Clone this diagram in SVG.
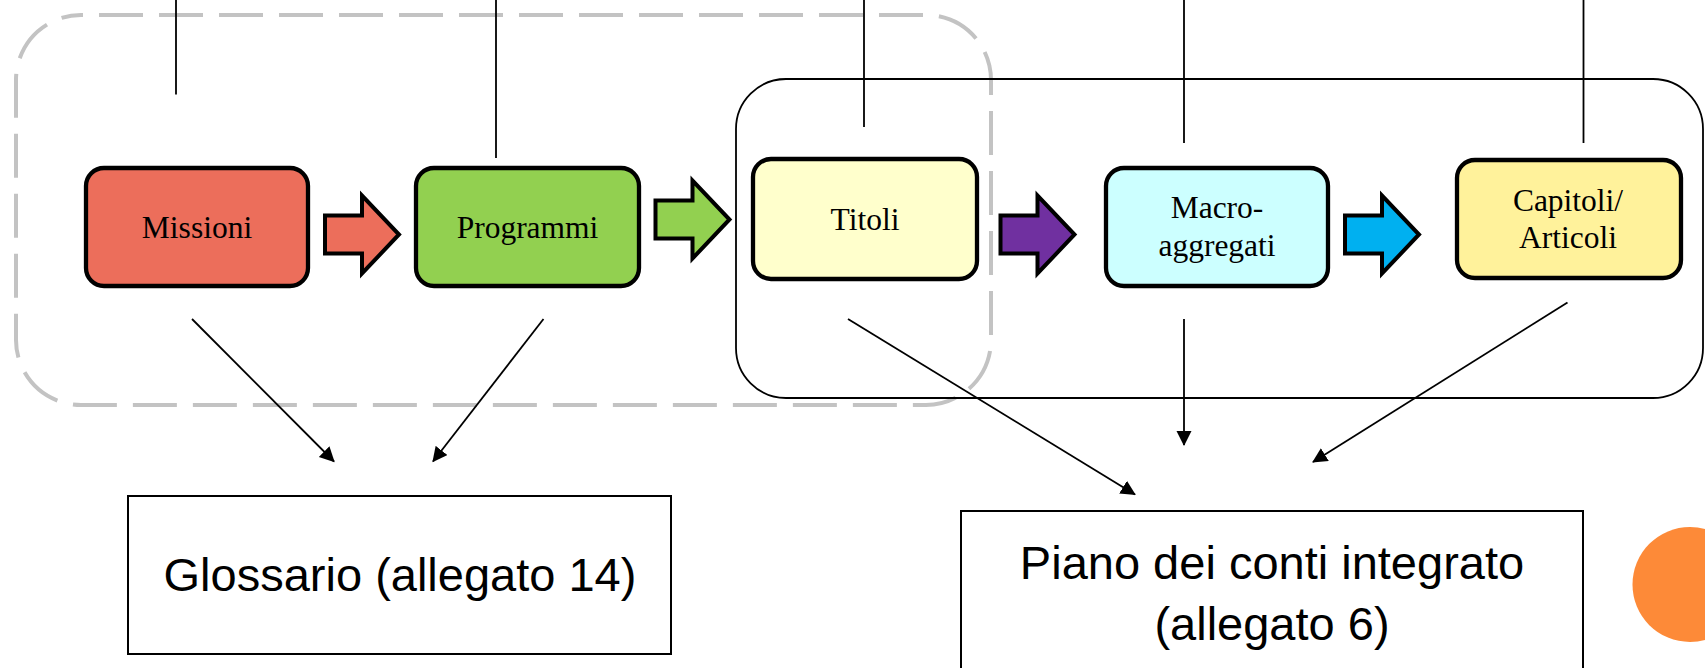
<svg xmlns="http://www.w3.org/2000/svg" xmlns:xlink="http://www.w3.org/1999/xlink" width="1705" height="668" viewBox="0 0 1705 668">
  <style>
    .node rect { stroke: #000; stroke-width: 4.3; }
    .node text { font-family: "Liberation Serif", "Times New Roman", serif; font-size: 31.5px; fill: #000; text-anchor: middle; }
    .doc rect { fill: #fff; stroke: #000; stroke-width: 2; }
    .doc text { font-family: "Liberation Sans", Arial, sans-serif; font-size: 47px; fill: #000; text-anchor: middle; }
    .conn line { stroke: #000; stroke-width: 1.8; fill: none; }
    .blk { stroke: #000; stroke-width: 4; stroke-linejoin: miter; }
  </style>
  <defs>
    <marker id="ah" markerUnits="userSpaceOnUse" markerWidth="16" markerHeight="16" refX="14" refY="7.5" orient="auto">
      <path d="M0,0 L15,7.5 L0,15 Z" fill="#000"/>
    </marker>
    <path id="blockArrow" d="M0,-19 H37 V-39 L74,0 L37,39 V19 H0 Z"/>
  </defs>

  <g id="groups">
    <rect id="group-dashed" x="16" y="15" width="975" height="390" rx="65" ry="65" fill="none" stroke="#C3C3C3" stroke-width="4" stroke-dasharray="44 16" stroke-dashoffset="42"/>
    <rect id="group-solid" x="736" y="79" width="967" height="319" rx="50" ry="50" fill="none" stroke="#000" stroke-width="1.8"/>
  </g>

  <g class="conn" id="connectors">
    <line x1="176" y1="0" x2="176" y2="94.5"/>
    <line x1="496" y1="0" x2="496" y2="158"/>
    <line x1="864" y1="0" x2="864" y2="127"/>
    <line x1="1184" y1="0" x2="1184" y2="143"/>
    <line x1="1583.5" y1="0" x2="1583.5" y2="143"/>
    <line x1="192" y1="319" x2="334" y2="461.5" marker-end="url(#ah)"/>
    <line x1="543.5" y1="319" x2="433" y2="461.5" marker-end="url(#ah)"/>
    <line x1="848" y1="319" x2="1135" y2="494.5" marker-end="url(#ah)"/>
    <line x1="1184" y1="319" x2="1184" y2="445" marker-end="url(#ah)"/>
    <line x1="1567.5" y1="302.5" x2="1313" y2="462" marker-end="url(#ah)"/>
  </g>

  <g id="flow-arrows">
    <use xlink:href="#blockArrow" href="#blockArrow" class="blk" fill="#EC6E5B" transform="translate(325,234.5)"/>
    <use xlink:href="#blockArrow" href="#blockArrow" class="blk" fill="#92D050" transform="translate(655.5,219.5)"/>
    <use xlink:href="#blockArrow" href="#blockArrow" class="blk" fill="#7030A0" transform="translate(1000.5,234.5)"/>
    <use xlink:href="#blockArrow" href="#blockArrow" class="blk" fill="#00B0F0" transform="translate(1345,234.5)"/>
  </g>

  <g id="node-missioni" class="node">
    <rect x="86" y="168" width="222" height="118" rx="18" ry="18" fill="#EC6E5B"/>
    <text x="197" y="238">Missioni</text>
  </g>
  <g id="node-programmi" class="node">
    <rect x="416" y="168" width="223" height="118" rx="18" ry="18" fill="#92D050"/>
    <text x="527.5" y="238">Programmi</text>
  </g>
  <g id="node-titoli" class="node">
    <rect x="753" y="159" width="224" height="120" rx="18" ry="18" fill="#FFFFCC"/>
    <text x="865" y="230">Titoli</text>
  </g>
  <g id="node-macro" class="node">
    <rect x="1106" y="168" width="222" height="118" rx="18" ry="18" fill="#CCFFFF"/>
    <text x="1217" y="218">Macro-</text>
    <text x="1217" y="256">aggregati</text>
  </g>
  <g id="node-capitoli" class="node">
    <rect x="1457" y="160" width="224" height="118" rx="18" ry="18" fill="#FFF29B"/>
    <text x="1568" y="211">Capitoli/</text>
    <text x="1568" y="248">Articoli</text>
  </g>

  <g id="node-glossario" class="doc">
    <rect x="128" y="496" width="543" height="158"/>
    <text x="400" y="591">Glossario (allegato 14)</text>
  </g>
  <g id="node-piano" class="doc">
    <rect x="961" y="511" width="622" height="200"/>
    <text x="1272" y="579">Piano dei conti integrato</text>
    <text x="1272" y="640">(allegato 6)</text>
  </g>

  <circle id="decor-circle" cx="1690" cy="584.5" r="57.5" fill="#FD8A38"/>
</svg>
